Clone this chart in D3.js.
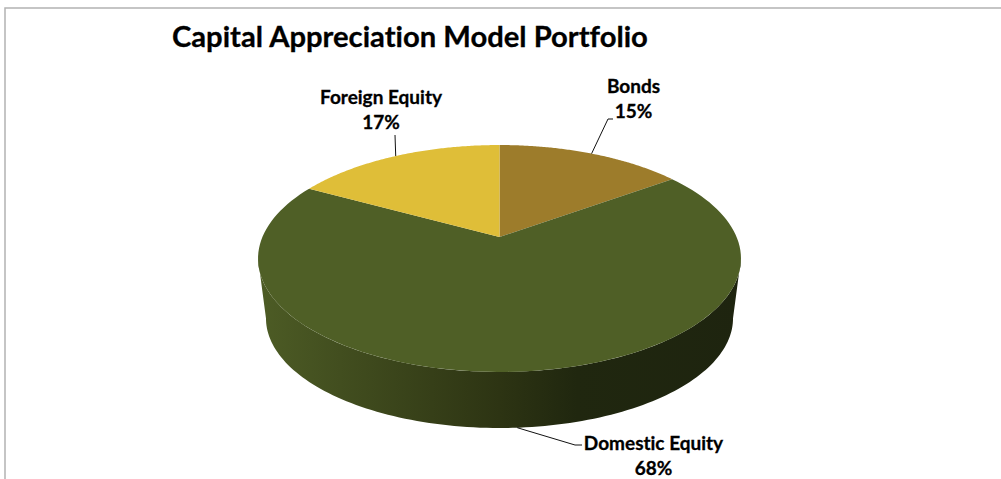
<!DOCTYPE html>
<html>
<head>
<meta charset="utf-8">
<script src="https://cdn.jsdelivr.net/npm/d3@7/dist/d3.min.js"></script>
<style>
  html, body { margin: 0; padding: 0; background: #fff; }
  svg { display: block; }
  text { font-family: Lato, "Open Sans", sans-serif; font-weight: 700; fill: #000;
         stroke: #000; stroke-width: 0.3; font-variant-ligatures: none; }
</style>
</head>
<body>
<svg id="chart" width="1001" height="479"></svg>
<script>
// Portfolio allocation, clockwise from twelve o'clock
const categories = ["Bonds", "Domestic Equity", "Foreign Equity"];
const allocation = [15, 68, 17];
const sliceColors = ["#9d7c2b", "#4f5f26", "#dfbe38"];
const chartTitle = "Capital Appreciation Model Portfolio";

// Label layout: centre x, first baseline, and the leader's path from the rim
const labelLayout = [
  { x: 633.5, y: 93,  elbow: [[608, 119], [613, 119]], rim: "top" },
  { x: 653.5, y: 450, elbow: [[575, 445], [582, 445]], rim: "bottom" },
  { x: 381,   y: 104, elbow: [[395, 135]],             rim: "top" }
];

const svg = d3.select("#chart");

// Frame around the plot, open on the right and at the bottom
svg.append("path")
  .attr("d", "M5,479V8H1001")
  .attr("fill", "none")
  .attr("stroke", "#b3b3b3")
  .attr("stroke-width", 1.5);

// Tilted disc: a perspective projection of the unit circle
const tilt = 0.1894;
const topDisc = { cx: 499.5, cy: 237, sx: 237.1, sy: 109.4 };
const baseDisc = { cx: 499.5, cy: 297.5, sx: 229.3, sy: 105.8 };

function project(disc, angle) {
  const u = Math.sin(angle), v = -Math.cos(angle);
  const w = 1 - tilt * v;
  return [disc.cx + disc.sx * u / w, disc.cy + disc.sy * v / w];
}

const rimPoints = (disc, a0, a1) =>
  d3.range(0, 121).map(i => project(disc, a0 + (a1 - a0) * i / 120));

const slices = d3.pie().sort(null).value(d => d)(allocation);
const line = d3.line();

// Wall shading runs left to right across the visible side of the disc
const defs = svg.append("defs");
const wallShade = defs.append("linearGradient")
  .attr("id", "wallShade")
  .attr("gradientUnits", "userSpaceOnUse")
  .attr("x1", 258).attr("x2", 741).attr("y1", 0).attr("y2", 0);
[[0, "#4d5c25"], [0.17, "#424e1f"], [0.36, "#363f18"], [0.5, "#2d3413"],
 [0.66, "#20270f"], [1, "#1e240f"]].forEach(([o, c]) =>
  wallShade.append("stop").attr("offset", o).attr("stop-color", c));

// Side wall between the tangent points of the near half of the rim
const tangent = Math.acos(-tilt);
const wallPts = rimPoints(topDisc, tangent, 2 * Math.PI - tangent)
  .concat(rimPoints(baseDisc, 2 * Math.PI - tangent, tangent));
svg.append("path")
  .attr("d", line(wallPts) + "Z")
  .attr("fill", "url(#wallShade)");

// Top face slices
svg.append("g").selectAll("path")
  .data(slices)
  .join("path")
  .attr("d", d => line([[topDisc.cx, topDisc.cy],
                        ...rimPoints(topDisc, d.startAngle, d.endAngle)]) + "Z")
  .attr("fill", (d, i) => sliceColors[i]);

// Leader lines start at each slice's mid-angle on the rim
svg.append("g").selectAll("path")
  .data(slices)
  .join("path")
  .attr("d", (d, i) => {
    const mid = (d.startAngle + d.endAngle) / 2;
    const disc = labelLayout[i].rim === "top" ? topDisc : baseDisc;
    return line([project(disc, mid), ...labelLayout[i].elbow]);
  })
  .attr("fill", "none")
  .attr("stroke", "#111")
  .attr("stroke-width", 1);

// Two-line slice labels
const labels = svg.append("g").selectAll("text")
  .data(slices)
  .join("text")
  .attr("text-anchor", "middle")
  .attr("font-size", 19);
labels.append("tspan")
  .attr("x", (d, i) => labelLayout[i].x)
  .attr("y", (d, i) => labelLayout[i].y)
  .text((d, i) => categories[i]);
labels.append("tspan")
  .attr("x", (d, i) => labelLayout[i].x)
  .attr("y", (d, i) => labelLayout[i].y + 25)
  .text(d => d.value + "%");

svg.append("text")
  .attr("x", 172)
  .attr("y", 47)
  .attr("font-size", 29.2)
  .text(chartTitle);
</script>
</body>
</html>
